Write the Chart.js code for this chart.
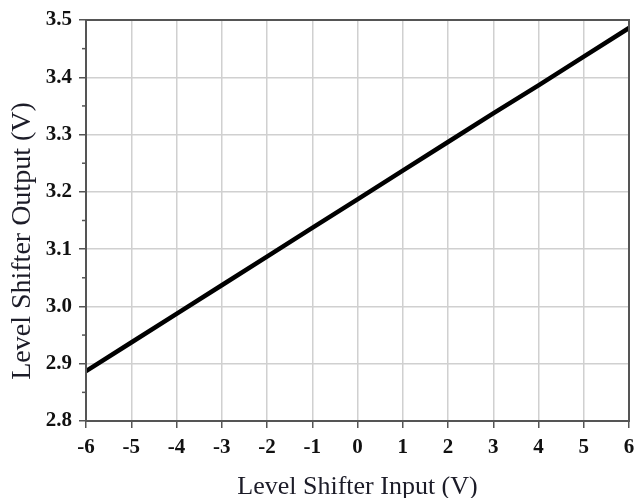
<!DOCTYPE html>
<html>
<head>
<meta charset="utf-8">
<script src="https://cdn.jsdelivr.net/npm/chart.js@4/dist/chart.umd.min.js"></script>
<style>
html,body{margin:0;padding:0;background:#fff;}
#wrap{width:634px;height:498px;position:relative;}
</style>
</head>
<body>
<div id="wrap"><canvas id="c" width="634" height="498"></canvas></div>
<script>
const inputVolts = [-6, -5, -4, -3, -2, -1, 0, 1, 2, 3, 4, 5, 6];
const outputVolts = [2.887, 2.937, 2.987, 3.037, 3.087, 3.137, 3.187, 3.237, 3.287, 3.337, 3.386, 3.436, 3.486];
const xTitle = 'Level Shifter Input (V)';
const yTitle = 'Level Shifter Output (V)';
const xRange = [-6, 6];
const yRange = [2.8, 3.5];

const points = inputVolts.map((x, i) => ({x: x, y: outputVolts[i]}));

const framePlugin = {
  id: 'frame',
  afterDraw(chart) {
    const ctx = chart.ctx;
    const a = chart.chartArea;
    const ys = chart.scales.y;
    ctx.save();
    ctx.strokeStyle = '#555';
    ctx.lineWidth = 2;
    ctx.strokeRect(a.left, a.top, a.right - a.left, a.bottom - a.top);
    ctx.lineWidth = 1.5;
    for (let v = yRange[0] + 0.05; v < yRange[1]; v += 0.1) {
      const p = ys.getPixelForValue(v);
      ctx.beginPath();
      ctx.moveTo(a.left - 4, p);
      ctx.lineTo(a.left, p);
      ctx.stroke();
    }
    ctx.fillStyle = '#1c1c28';
    ctx.textAlign = 'center';
    ctx.textBaseline = 'alphabetic';
    ctx.font = '26px "Liberation Serif"';
    ctx.fillText(xTitle, (a.left + a.right) / 2, 494);
    ctx.font = '28px "Liberation Serif"';
    ctx.translate(30, 241);
    ctx.rotate(-Math.PI / 2);
    ctx.fillText(yTitle, 0, 0);
    ctx.restore();
  }
};

new Chart(document.getElementById('c'), {
  type: 'scatter',
  data: {
    datasets: [{
      data: points,
      showLine: true,
      borderColor: '#000',
      borderWidth: 4.5,
      pointRadius: 0,
      fill: false
    }]
  },
  options: {
    responsive: false,
    animation: false,
    layout: {padding: {top: 20, right: 0, left: 0, bottom: 0}},
    plugins: {legend: {display: false}, tooltip: {enabled: false}},
    scales: {
      x: {
        type: 'linear',
        min: xRange[0], max: xRange[1],
        afterFit(s) { s.height = 77; s.paddingRight = 5; },
        ticks: {stepSize: 1, color: '#111', padding: 7,
          font: {family: '"Liberation Serif"', size: 21, weight: 'bold'}},
        grid: {color: '#d0d0d0', lineWidth: 1.5, tickLength: 7, tickColor: '#555', tickWidth: 1.5},
        border: {color: '#555', width: 2}
      },
      y: {
        type: 'linear',
        min: yRange[0], max: yRange[1],
        afterFit(s) { s.width = 86; },
        ticks: {stepSize: 0.1, color: '#111', padding: 7,
          callback: v => v.toFixed(1),
          font: {family: '"Liberation Serif"', size: 21, weight: 'bold'}},
        grid: {color: '#d0d0d0', lineWidth: 1.5, tickLength: 7, tickColor: '#555', tickWidth: 1.5},
        border: {color: '#555', width: 2}
      }
    }
  },
  plugins: [framePlugin]
});
</script>
</body>
</html>
